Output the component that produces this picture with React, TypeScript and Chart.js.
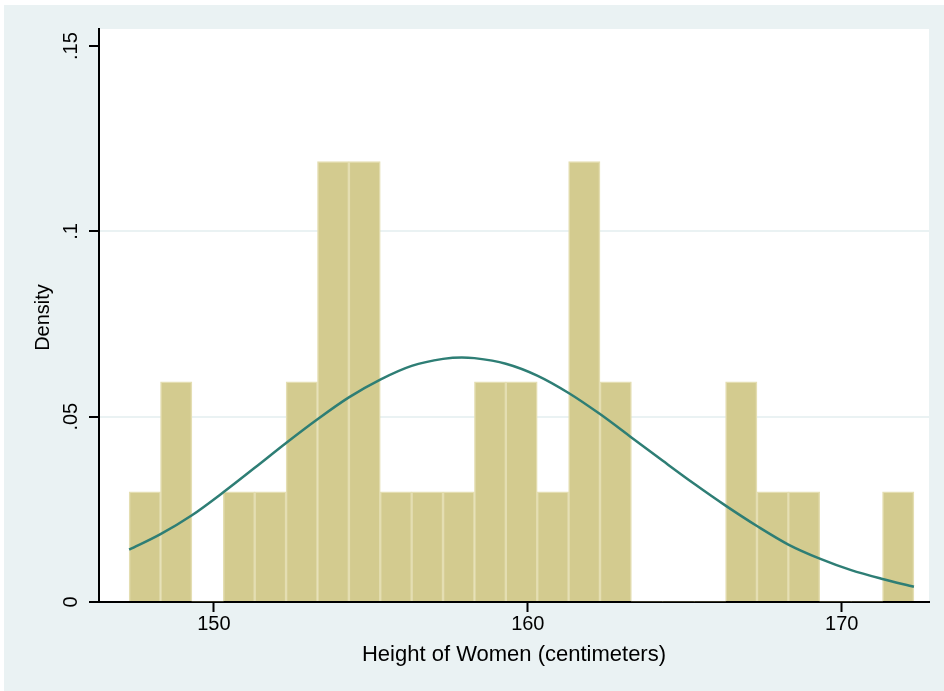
import React, { useEffect, useRef } from "react";
import { Chart, registerables } from "chart.js";

Chart.register(...registerables);

// Histogram bins (bin midpoints, width 1 cm) and their densities
const binMids = [
  147.8, 148.8, 149.8, 150.8, 151.8, 152.8, 153.8, 154.8, 155.8, 156.8,
  157.8, 158.8, 159.8, 160.8, 161.8, 162.8, 163.8, 164.8, 165.8, 166.8,
  167.8, 168.8, 169.8, 170.8, 171.8,
];
const binDensity = [
  0.0297, 0.0594, 0, 0.0297, 0.0297, 0.0594, 0.1188, 0.1188, 0.0297, 0.0297,
  0.0297, 0.0594, 0.0594, 0.0297, 0.1188, 0.0594, 0, 0, 0, 0.0594,
  0.0297, 0.0297, 0, 0, 0.0297,
];

// Normal density curve
const curveX = [
  147.3, 148.3, 149.3, 150.3, 151.3, 152.3, 153.3, 154.3, 155.3, 156.3,
  157.3, 157.9, 158.3, 159.3, 160.3, 161.3, 162.3, 163.3, 164.3, 165.3,
  166.3, 167.3, 168.3, 169.3, 170.3, 171.3, 172.3,
];
const curveY = [
  0.0141, 0.0183, 0.0234, 0.0296, 0.0362, 0.0429, 0.0493, 0.0552, 0.06, 0.0637,
  0.0656, 0.066, 0.0658, 0.0643, 0.0611, 0.0564, 0.0507, 0.0444, 0.0381, 0.0319,
  0.026, 0.0205, 0.0155, 0.0117, 0.0086, 0.0062, 0.0041,
];

const xTicks = [150, 160, 170];
const xTickLabels = ["150", "160", "170"];
const yTicks = [0, 0.05, 0.1, 0.15];
const yTickLabels = ["0", ".05", ".1", ".15"];
const yGridValues = [0.05, 0.1];
const xTitle = "Height of Women (centimeters)";
const yTitle = "Density";

export default function App() {
  const ref = useRef<HTMLCanvasElement>(null);

  useEffect(() => {
    document.body.style.margin = "0";
    const canvas = ref.current;
    if (!canvas) return;
    const family = '"Liberation Sans", Arial, Helvetica, sans-serif';
    const outer = "#EAF2F3";

    const bgPlugin = {
      id: "stataBg",
      beforeDraw(chart: any) {
        const { ctx, chartArea: a } = chart;
        ctx.save();
        ctx.fillStyle = "#ffffff";
        ctx.fillRect(0, 0, chart.width, chart.height);
        ctx.fillStyle = outer;
        ctx.fillRect(4, 5, chart.width - 4, chart.height - 5);
        ctx.fillStyle = "#ffffff";
        ctx.fillRect(a.left, a.top, a.right - a.left, a.bottom - a.top);
        ctx.restore();
      },
      afterDraw(chart: any) {
        const { ctx, chartArea: a, scales } = chart;
        ctx.save();
        ctx.fillStyle = "#000000";
        ctx.font = "20px " + family;
        ctx.textAlign = "center";
        ctx.textBaseline = "middle";
        xTicks.forEach((v, i) => {
          ctx.fillText(xTickLabels[i], scales.x.getPixelForValue(v), 624);
        });
        yTicks.forEach((v, i) => {
          ctx.save();
          ctx.translate(71, scales.y.getPixelForValue(v));
          ctx.rotate(-Math.PI / 2);
          ctx.fillText(yTickLabels[i], 0, 0);
          ctx.restore();
        });
        ctx.save();
        ctx.translate(43, (a.top + a.bottom) / 2 + 2);
        ctx.rotate(-Math.PI / 2);
        ctx.fillText(yTitle, 0, 0);
        ctx.restore();
        ctx.font = "22px " + family;
        ctx.fillText(xTitle, (a.left + a.right) / 2, 655);
        ctx.restore();
      },
    };

    const chart = new Chart(canvas, {
      type: "bar",
      data: {
        datasets: [
          {
            type: "line",
            data: curveX.map((x, i) => ({ x, y: curveY[i] })),
            borderColor: "#2E7E75",
            borderWidth: 2.5,
            pointRadius: 0,
            cubicInterpolationMode: "monotone",
            fill: false,
            order: 1,
          } as any,
          {
            type: "bar",
            data: binMids.map((x, i) => ({ x, y: binDensity[i] })),
            backgroundColor: "#D3CB8F",
            borderColor: "#E4DEB2",
            borderWidth: (c: any) => (binDensity[c.dataIndex] > 0 ? 1.5 : 0),
            barPercentage: 1,
            categoryPercentage: 1,
            order: 2,
          } as any,
        ],
      },
      options: {
        responsive: false,
        animation: false,
        devicePixelRatio: 1,
        layout: { padding: { left: 0, top: 29, right: 15, bottom: 0 } },
        plugins: { legend: { display: false }, tooltip: { enabled: false } },
        scales: {
          x: {
            type: "linear",
            min: 146.34,
            max: 172.78,
            offset: false,
            afterFit: (s: any) => {
              s.height = 89;
            },
            afterBuildTicks: (s: any) => {
              s.ticks = xTicks.map((v) => ({ value: v }));
            },
            ticks: { display: false },
            grid: {
              display: true,
              offset: false,
              drawOnChartArea: false,
              drawTicks: true,
              tickLength: 10,
              tickColor: "#000000",
              tickWidth: 2,
            },
            border: { display: true, color: "#000000", width: 2 },
          },
          y: {
            type: "linear",
            min: 0,
            max: 0.1546,
            afterFit: (s: any) => {
              s.width = 99;
            },
            afterBuildTicks: (s: any) => {
              s.ticks = yTicks.map((v) => ({ value: v }));
            },
            ticks: { display: false },
            grid: {
              color: (c: any) =>
                c.tick && yGridValues.includes(c.tick.value) ? outer : "rgba(0,0,0,0)",
              lineWidth: 2,
              drawTicks: true,
              tickLength: 10,
              tickColor: "#000000",
              tickWidth: 2,
            },
            border: { display: true, color: "#000000", width: 2 },
          },
        },
      } as any,
      plugins: [bgPlugin],
    });

    return () => chart.destroy();
  }, []);

  return (
    <div style={{ width: 944, height: 691 }}>
      <canvas ref={ref} width={944} height={691} style={{ display: "block" }} />
    </div>
  );
}
